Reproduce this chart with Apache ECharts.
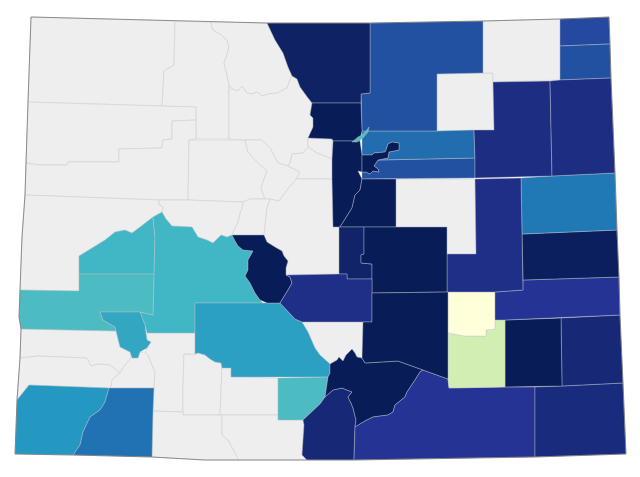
<!DOCTYPE html>
<html>
<head>
<meta charset="utf-8">
<style>
  html, body { margin: 0; background: #fff; }
  #main { width: 640px; height: 477px; }
</style>
<script src="https://cdn.jsdelivr.net/npm/echarts@6/dist/echarts.min.js"></script>
</head>
<body>
<div id="main"></div>
<script>
// county rates, null = no data (grey)
var countyNames = [
  'Moffat', 'Routt', 'Jackson', 'Rio Blanco', 'Garfield', 'Eagle', 'Grand', 'Summit', 'Gilpin', 'Clear Creek',
  'Lake', 'Pitkin', 'Mesa', 'San Miguel', 'Dolores', 'San Juan', 'Hinsdale', 'Mineral', 'Rio Grande', 'Archuleta',
  'Conejos', 'Custer', 'Park', 'Elbert', 'Morgan', 'Logan',
  'Delta', 'Gunnison', 'Montrose', 'Ouray', 'Saguache', 'Alamosa', 'Montezuma', 'La Plata', 'Chaffee', 'Costilla',
  'Huerfano', 'Las Animas', 'Baca', 'Prowers', 'Bent', 'Otero', 'Crowley', 'Kiowa', 'Cheyenne', 'Kit Carson',
  'Lincoln', 'Arapahoe', 'Adams', 'Weld', 'Sedgwick', 'Phillips', 'Washington', 'Yuma', 'Larimer', 'Boulder',
  'Jefferson', 'Douglas', 'Teller', 'El Paso', 'Fremont', 'Pueblo', 'Denver', 'Broomfield'
];
var countyValues = [
  null, null, null, null, null, null, null, null, null, null,
  null, null, null, null, null, null, null, null, null, null,
  null, null, null, null, null, null,
  40, 40, 38, 44, 46, 38, 48, 56, 80, 75,
  80, 70, 74, 75, 80, 17, 0, 70, 79, 55,
  72, 63, 57, 63, 65, 63, 73, 73, 78, 80,
  80, 80, 77, 80, 72, 80, 80, 37
];
var colorStops = ['#ffffd9', '#edf8b1', '#c7e9b4', '#7fcdbb', '#41b6c4', '#1d91c0', '#225ea8', '#253494', '#081d58'];

// county outlines, x y x y ...
var countyOutlines = {
  Moffat: '31 17 175 21 174 65 164 71 162 106 28 102',
  Routt: '175 21 211 22 211 24 213 30 220 34 227 40 229 47 227 55 224 63 227 75 229 85 229 139 196 139 196 107 162 106 164 71 174 65',
  Jackson: '211 22 267 23 275 40 283 53 288 67 292 76 290 80 287 88 277 93 268 94 262 96 257 92 252 94 247 93 242 86 238 91 232 89 229 85 227 75 224 63 227 55 229 47 227 40 220 34 213 30 211 24',
  'Rio Blanco': '28 102 162 106 196 107 196 120 172 121 172 139 163 140 162 148 119 149 119 162 68 162 67 165 40 165 26 163',
  Garfield: '26 163 40 165 67 165 68 162 119 162 119 149 162 148 163 140 172 139 172 121 196 120 196 139 189 140 188 200 160 200 25 195',
  Eagle: '189 140 245 140 248 152 255 160 267 171 263 182 261 188 265 199 250 199 243 202 188 200',
  Grand: '229 85 232 89 238 91 242 86 247 93 252 94 257 92 262 96 268 94 277 93 287 88 290 80 292 76 297 79 300 87 308 98 312 103 310 115 313 118 313 127 308 138 308 147 303 153 292 154 290 163 288 166 278 163 270 148 262 140 245 140 229 139',
  Summit: '245 140 262 140 270 148 278 163 288 166 300 172 296 180 287 190 279 201 270 199 265 199 261 188 263 182 267 171 255 160 248 152',
  Gilpin: '308 138 332 139 332 159 317 153 308 147',
  'Clear Creek': '308 147 317 153 332 159 332 179 296 179 300 172 288 166 290 163 292 154 303 153',
  Lake: '243 202 250 199 265 199 270 199 267 208 264 235 232 235 233 232 238 222 240 213 242 208',
  Pitkin: '160 200 188 200 243 202 242 208 240 213 238 222 233 232 232 235 227 237 221 235 213 243 207 240 198 237 192 227 172 226 166 219 162 212 163 207 158 204',
  Mesa: '25 195 160 200 158 204 163 207 162 212 153 217 140 227 132 233 125 230 115 232 105 240 79 256 79 291 20 290 22 237',
  'San Miguel': '21 329 116 331 117 335 120 347 130 352 131 358 125 365 120 373 110 365 98 364 91 366 87 358 38 356 20 358',
  Dolores: '20 358 38 356 87 358 91 366 98 364 110 365 120 373 112 380 111 387 109 388 29 385 17 400',
  'San Juan': '111 387 112 380 120 373 125 365 131 358 138 358 140 352 145 352 148 355 152 365 155 372 154 388 109 388',
  Hinsdale: '147 333 195 333 195 354 184 354 183 385 183 412 153 411 154 388 155 372 152 365 148 355 145 352 147 348 151 342 147 340',
  Mineral: '184 354 193 355 198 353 205 355 210 359 215 362 221 363 222 368 220 415 183 415 183 385',
  'Rio Grande': '222 368 231 368 231 377 278 378 278 415 220 415',
  Archuleta: '153 411 183 412 183 415 222 415 222 435 228 440 239 460 205 460 152 457',
  Conejos: '222 415 278 415 278 420 303 420 304 425 303 440 302 455 307 460 239 460 228 440 222 435',
  Custer: '302 322 363 322 363 358 362 358 357 357 355 353 352 349 346 355 343 361 339 357 337 360 330 364 320 355 315 348 308 332',
  Park: '296 179 332 179 333 227 339 227 339 274 286 275 286 268 288 261 284 256 282 251 275 247 267 242 264 235 267 208 270 199 279 201 287 190',
  Elbert: '396 179 475 179 476 254 447 254 447 227 396 227',
  Morgan: '437 74 493 73 494 130 437 131',
  Logan: '483 21 560 19 560 80 493 82 493 73 483 73',
  Delta: '79 256 105 240 115 232 125 230 132 233 140 227 153 217 155 237 154 274 79 274',
  Gunnison: '153 217 162 212 166 219 172 226 192 227 198 237 207 240 213 243 221 235 227 237 232 235 235 241 238 246 243 250 253 251 248 260 248 270 245 276 250 283 255 293 260 300 263 303 195 303 195 333 147 333 145 325 140 312 153 315 154 274 155 237',
  Montrose: '79 274 154 274 153 315 140 312 100 312 103 320 115 327 116 331 21 329 19 317 20 290 79 291',
  Ouray: '100 312 140 312 145 325 147 340 151 342 147 348 140 352 138 358 132 358 130 352 120 347 117 335 115 327 103 320',
  Saguache: '195 303 263 303 267 303 280 303 295 319 302 322 308 332 315 348 320 355 330 364 330 373 328 377 231 377 231 368 222 368 221 363 215 362 210 359 205 355 198 353 195 354',
  Alamosa: '278 378 328 377 325 397 320 404 303 420 278 420',
  Montezuma: '29 385 109 388 105 402 100 410 90 417 83 432 80 445 73 455 15 454 17 400',
  'La Plata': '109 388 154 388 153 411 152 457 73 455 80 445 83 432 90 417 100 410 105 402',
  Chaffee: '232 235 264 235 267 242 275 247 282 251 284 256 288 261 286 268 286 275 290 277 292 283 288 290 280 303 267 303 260 300 255 293 250 283 245 276 248 270 248 260 253 251 243 250 238 246 235 241',
  Costilla: '320 404 325 397 333 390 342 388 352 392 348 397 351 403 353 408 356 420 355 427 354 460 307 460 302 455 303 440 304 425 303 420',
  Huerfano: '325 397 328 377 330 373 330 364 337 360 339 357 343 361 346 355 352 349 355 353 357 357 362 358 365 363 398 361 423 370 420 372 415 380 407 392 405 397 395 405 393 412 388 415 373 417 365 421 355 427 356 420 353 408 351 403 348 397 352 392 342 388 333 390',
  'Las Animas': '423 370 448 379 449 388 505 387 535 387 535 457 354 460 355 427 365 421 373 417 388 415 393 412 395 405 405 397 407 392 415 380 420 372',
  Baca: '535 387 562 386 623 383 626 454 535 457',
  Prowers: '561 318 620 315 623 383 562 386',
  Bent: '505 320 561 318 562 386 505 387',
  Otero: '448 333 465 336 486 336 486 330 495 329 495 320 505 320 505 387 449 388 448 379',
  Crowley: '448 292 495 292 495 329 486 330 486 336 465 336 448 333',
  Kiowa: '495 292 523 290 523 280 619 277 620 315 505 320 495 320',
  Cheyenne: '522 234 617 230 619 277 523 280',
  'Kit Carson': '521 178 552 176 615 173 617 230 522 234',
  Lincoln: '475 179 521 178 522 234 523 290 495 292 447 292 447 254 476 254',
  Arapahoe: '475 158 475 178 362 179 362 172 366 172 370 174 373 171 379 172 378 169 374 166 378 160',
  Adams: '362 131 437 131 474 130 475 158 378 160 388 158 389 152 399 150 399 143 392 142 388 144 386 150 385 152 374 153 372 155 362 155',
  Weld: '370 23 483 21 483 73 437 74 437 131 362 131 361 94 370 93',
  Sedgwick: '560 19 609 17 610 44 560 46',
  Phillips: '560 46 610 44 611 78 560 80',
  Washington: '493 82 550 81 552 176 475 178 475 158 474 130 494 130',
  Yuma: '550 81 560 80 611 78 615 173 552 176',
  Larimer: '267 23 370 23 370 93 361 94 361 103 312 103 308 98 300 87 297 79 292 76 288 67 283 53 275 40',
  Boulder: '312 103 361 103 362 131 360 141 333 141 332 139 308 138 313 127 313 118 310 115',
  Jefferson: '333 141 360 141 362 155 362 172 358 171 362 179 360 190 355 195 352 208 340 227 333 227 332 179 332 159',
  Douglas: '362 179 396 179 396 227 340 227 352 208 355 195 360 190',
  Teller: '339 227 364 227 364 254 361 255 361 263 372 264 372 279 347 279 347 274 339 274',
  'El Paso': '364 227 396 227 447 227 447 254 447 292 372 293 372 264 361 263 361 255 364 254',
  Fremont: '286 275 339 274 347 274 347 279 372 279 372 293 372 322 302 322 295 319 280 303 288 290 292 283 290 277',
  Pueblo: '372 293 448 292 448 333 448 379 423 370 398 361 365 363 362 358 363 322 372 322',
  Denver: '362 155 372 155 374 153 385 152 386 150 388 144 392 142 399 143 399 150 389 152 388 158 378 160 374 166 378 169 379 172 373 171 370 174 366 172 362 172',
  Broomfield: '352 142 358 137 362 135 366 131 369 127 368 132 363 138 357 142'
};
var stateOutline = '31 17 267 23 370 23 483 21 560 19 609 17 610 44 611 78 615 173 617 230 619 277 620 315 623 383 626 454 535 457 354 460 307 460 239 460 205 460 152 457 73 455 15 454 17 400 20 358 21 329 19 317 20 290 22 237 25 195 26 163 28 102';

function toRing(text) {
  var nums = text.split(' ').map(Number);
  var ring = [];
  for (var i = 0; i < nums.length; i += 2) {
    ring.push([nums[i], 477 - nums[i + 1]]);
  }
  ring.push(ring[0]);
  return ring;
}

function toFeature(name, text) {
  return { type: 'Feature', properties: { name: name }, geometry: { type: 'Polygon', coordinates: [toRing(text)] } };
}

var features = countyNames.map(function (name) {
  return toFeature(name, countyOutlines[name]);
});
features.push(toFeature('Colorado', stateOutline));
echarts.registerMap('colorado', { type: 'FeatureCollection', features: features });

var mapData = [];
countyNames.forEach(function (name, i) {
  if (countyValues[i] !== null) {
    mapData.push({ name: name, value: countyValues[i], itemStyle: { borderColor: 'rgba(190,195,205,0.5)', borderWidth: 0.8 } });
  }
});
mapData.push({ name: 'Colorado', itemStyle: { areaColor: 'rgba(0,0,0,0)', borderColor: '#767676', borderWidth: 0.8 } });

var chart = echarts.init(document.getElementById('main'));
chart.setOption({
  animation: false,
  visualMap: {
    show: false,
    min: 0,
    max: 80,
    seriesIndex: 0,
    inRange: { color: colorStops }
  },
  series: [
    {
      type: 'map',
      map: 'colorado',
      silent: true,
      aspectScale: 1,
      left: 15,
      top: 17,
      width: 611,
      height: 443,
      label: { show: false },
      itemStyle: { areaColor: '#eeeeee', borderColor: '#d2d2d2', borderWidth: 0.7 },
      data: mapData
    }
  ]
});
</script>
</body>
</html>
